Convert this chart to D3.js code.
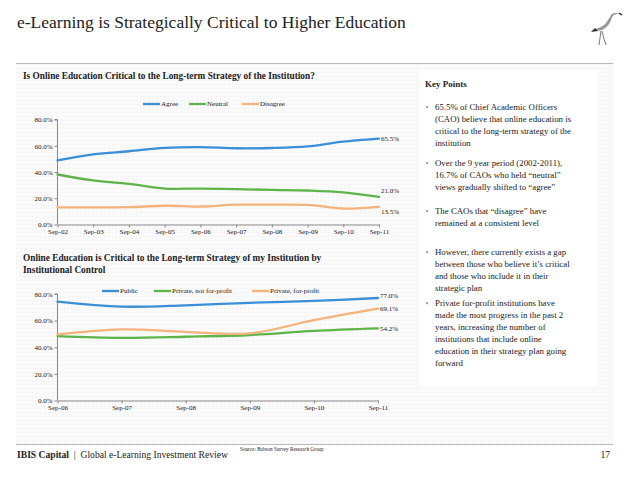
<!DOCTYPE html>
<html><head><meta charset="utf-8">
<script src="https://cdn.jsdelivr.net/npm/d3@7"></script>
<style>
html,body{margin:0;padding:0;background:#fff;}
svg text{font-family:"Liberation Serif","Times New Roman",serif;fill:#222;}
</style></head>
<body>
<svg id="c" width="638" height="479"></svg>
<script>
// ---- data ----
const dates1 = ["Sep-02","Sep-03","Sep-04","Sep-05","Sep-06","Sep-07","Sep-08","Sep-09","Sep-10","Sep-11"];
const agree    = [48.9, 53.4, 55.8, 58.4, 59.0, 58.1, 58.3, 59.5, 63.2, 65.5];
const neutral  = [38.1, 33.6, 31.0, 27.4, 27.4, 26.9, 26.4, 25.9, 24.5, 21.0];
const disagree = [13.1, 13.0, 13.2, 14.3, 13.7, 15.1, 15.1, 14.9, 12.2, 13.5];
const series1Names = ["Agree","Neutral","Disagree"];

const dates2 = ["Sep-06","Sep-07","Sep-08","Sep-09","Sep-10","Sep-11"];
const publicCtl  = [74.2, 70.5, 71.5, 73.4, 74.8, 77.0];
const privNFP    = [48.4, 47.1, 47.9, 49.2, 52.3, 54.2];
const privFP     = [49.6, 53.4, 51.6, 50.4, 60.4, 69.1];
const series2Names = ["Public","Private, not for-profit","Private, for-profit"];

const yTicks = [0, 20, 40, 60, 80];

const keyPoints = [
  ["65.5% of Chief Academic Officers","(CAO) believe that online education is","critical to the long-term strategy of the","institution"],
  ["Over the 9 year period (2002-2011),","16.7% of CAOs who held \u201cneutral\u201d","views gradually shifted to \u201cagree\u201d"],
  ["The CAOs that \u201cdisagree\u201d have","remained at a consistent level"],
  ["However, there currently exists a gap","between those who believe it\u2019s critical","and those who include it in their","strategic plan"],
  ["Private for-profit institutions have","made the most progress in the past 2","years, increasing the number of","institutions that include online","education in their strategy plan going","forward"]
];

const colors = ["#3a8fd6","#5db54a","#f4b27c"];

const svg = d3.select("#c");

// background grid pattern
const defs = svg.append("defs");
const pat = defs.append("pattern").attr("id","grid").attr("width",4).attr("height",4).attr("patternUnits","userSpaceOnUse");
pat.append("rect").attr("width",4).attr("height",4).attr("fill","#fbfbfb");
pat.append("path").attr("d","M4 0 L0 0 0 4").attr("fill","none").attr("stroke","#efefef").attr("stroke-width",0.6);

svg.append("rect").attr("x",16).attr("y",64).attr("width",597).attr("height",380).attr("fill","url(#grid)");
svg.append("rect").attr("x",420).attr("y",70).attr("width",177).attr("height",316).attr("fill","#ffffff");

// header
svg.append("text").attr("x",17).attr("y",28).attr("font-size",17.5).text("e-Learning is Strategically Critical to Higher Education");
svg.append("line").attr("x1",16).attr("x2",613).attr("y1",63.5).attr("y2",63.5).attr("stroke","#b8b8b8").attr("stroke-width",1);

// logo (ibis)
const logo = svg.append("g").attr("transform","translate(590,9)");
logo.append("path").attr("d","M20 8 C 21 4, 25 3, 30 5 L 27 5 C 24 5, 22 7, 21 11 C 20 15, 16 19, 12 21 C 9 22, 6 22, 4 21 L 8 19 C 12 18, 16 15, 18 11 Z").attr("fill","#9a9a9a");
logo.append("path").attr("d","M5 19 L 1 23 L 8 22 Z").attr("fill","#333");
logo.append("path").attr("d","M29 4 L 32 6").attr("stroke","#222").attr("stroke-width",1.5);
logo.append("path").attr("d","M11 22 L 9 36 M12 22 L 14 30 L 16 36").attr("stroke","#555").attr("stroke-width",0.8).attr("fill","none");

// footer
svg.append("line").attr("x1",16).attr("x2",613).attr("y1",444.5).attr("y2",444.5).attr("stroke","#b8b8b8").attr("stroke-width",1);
const ft = svg.append("text").attr("x",17).attr("y",458).attr("font-size",9.6);
ft.append("tspan").attr("font-weight","bold").text("IBIS Capital");
ft.append("tspan").text(" \u00a0|\u00a0 Global e-Learning Investment Review");
svg.append("text").attr("x",240).attr("y",451).attr("font-size",5.2).attr("fill","#444").text("Source: Babson Survey Research Group");
svg.append("text").attr("x",610).attr("y",458).attr("text-anchor","end").attr("font-size",9.6).text("17");

// chart drawing helper
function drawChart(cfg){
  const g = svg.append("g");
  const x = d3.scalePoint().domain(cfg.dates).range([cfg.x0, cfg.x1]);
  const y = d3.scaleLinear().domain([0,80]).range([cfg.y0, cfg.y1]);
  const yAx = g.append("g").attr("transform",`translate(${cfg.x0},0)`)
    .call(d3.axisLeft(y).tickValues(yTicks).tickFormat(d=>d.toFixed(1)+"%").tickSize(3).tickPadding(2));
  const xAx = g.append("g").attr("transform",`translate(0,${cfg.y0})`)
    .call(d3.axisBottom(x).tickSize(3).tickPadding(2).tickSizeOuter(0));
  [yAx,xAx].forEach(a=>{
    a.select(".domain").attr("stroke","#8a8a8a");
    a.selectAll(".tick line").attr("stroke","#8a8a8a");
    a.selectAll("text").attr("font-size",7).attr("font-family","Liberation Serif, serif").attr("fill","#333");
  });
  yAx.select(".domain").attr("d",`M-3,${cfg.y1}H0V${cfg.y0}`);
  const line = d3.line().x((d,i)=>x(cfg.dates[i])).y(d=>y(d)).curve(d3.curveCatmullRom.alpha(0.5));
  cfg.series.forEach((s,k)=>{
    g.append("path").datum(s).attr("d",line).attr("fill","none").attr("stroke",colors[k]).attr("stroke-width",2.3).attr("stroke-linecap","round");
  });
  cfg.series.forEach((s,k)=>{
    const v = s[s.length-1];
    g.append("text").attr("x",x(cfg.dates[cfg.dates.length-1])+2).attr("y",y(v)+cfg.labelDy[k])
      .attr("font-size",7).attr("fill","#333").text(v.toFixed(1)+"%");
  });
  // legend
  cfg.names.forEach((n,k)=>{
    const lx = cfg.legend[k];
    g.append("line").attr("x1",lx).attr("x2",lx+17).attr("y1",cfg.legendY).attr("y2",cfg.legendY).attr("stroke",colors[k]).attr("stroke-width",2.3);
    g.append("text").attr("x",lx+18).attr("y",cfg.legendY+2.4).attr("font-size",7).attr("fill","#333").text(n);
  });
}

// chart 1
svg.append("text").attr("x",23).attr("y",79).attr("font-size",9.3).attr("font-weight","bold").text("Is Online Education Critical to the Long-term Strategy of the Institution?");
drawChart({dates:dates1, series:[agree,neutral,disagree], names:series1Names,
  x0:57.5, x1:379, y0:224.5, y1:119.5, labelDy:[2.5,-3.5,7.5],
  legend:[143,189,242], legendY:104});

// chart 2
svg.append("text").attr("x",23).attr("y",261).attr("font-size",9.3).attr("font-weight","bold").text("Online Education is Critical to the Long-term Strategy of my Institution by");
svg.append("text").attr("x",23).attr("y",273).attr("font-size",9.3).attr("font-weight","bold").text("Institutional Control");
drawChart({dates:dates2, series:[publicCtl,privNFP,privFP], names:series2Names,
  x0:57.5, x1:378, y0:400.5, y1:294, labelDy:[0,2.5,2.5],
  legend:[102,154,252], legendY:291});

// key points
svg.append("text").attr("x",425).attr("y",87).attr("font-size",9).attr("font-weight","bold").text("Key Points");
const starts = [110, 166, 214, 255, 306];
keyPoints.forEach((lines,i)=>{
  svg.append("rect").attr("x",426).attr("y",starts[i]-4).attr("width",2.2).attr("height",2.2).attr("fill","#aaa");
  lines.forEach((t,j)=>{
    svg.append("text").attr("x",435).attr("y",starts[i]+j*12).attr("font-size",8.8).text(t);
  });
});
</script>
</body></html>
